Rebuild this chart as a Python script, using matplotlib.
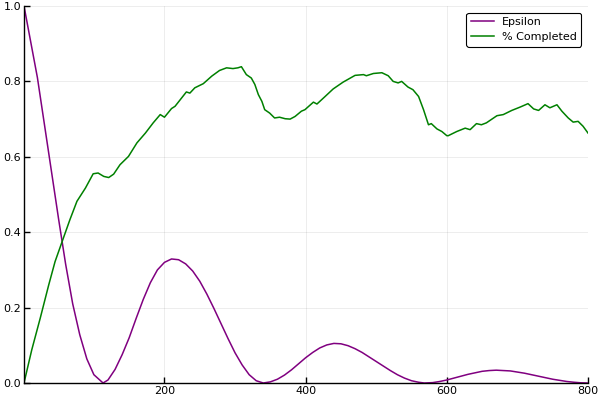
import matplotlib
matplotlib.use("Agg")
import matplotlib.pyplot as plt

# epsilon per episode
eps_x = [1, 10, 20, 30, 40, 50, 60, 70, 80, 90, 100, 113, 120, 130, 140, 150, 160, 170, 180, 190,
         200, 210, 220, 230, 240, 250, 260, 270, 280, 290, 300, 310, 320, 330, 340, 350, 360, 370,
         380, 390, 400, 410, 420, 430, 440, 450, 460, 470, 480, 490, 500, 510, 520, 530, 540, 550,
         560, 568, 580, 590, 600, 610, 620, 630, 640, 650, 660, 670, 680, 690, 700, 710, 720, 730,
         740, 750, 760, 770, 780, 790, 800]
eps_y = [1.0, 0.91, 0.81, 0.685, 0.56, 0.435, 0.315, 0.21, 0.128, 0.064, 0.022, 0.0, 0.008, 0.036,
         0.075, 0.12, 0.172, 0.222, 0.266, 0.3, 0.32, 0.329, 0.327, 0.316, 0.297, 0.27, 0.236, 0.198,
         0.158, 0.118, 0.08, 0.048, 0.022, 0.006, 0.0, 0.003, 0.01, 0.021, 0.035, 0.051, 0.067, 0.081,
         0.093, 0.101, 0.105, 0.104, 0.099, 0.091, 0.081, 0.069, 0.057, 0.045, 0.033, 0.022, 0.013,
         0.006, 0.002, 0.0, 0.001, 0.004, 0.008, 0.013, 0.018, 0.023, 0.027, 0.031, 0.033, 0.034,
         0.033, 0.032, 0.029, 0.026, 0.022, 0.018, 0.014, 0.01, 0.007, 0.004, 0.002, 0.0005, 0.0]

# % completed (running success rate)
done_x = [1, 12, 24, 36, 45, 55, 66, 76, 88, 99, 106, 114, 121, 128, 137, 149, 161, 173, 184, 194,
          200, 210, 215, 231, 236, 243, 255, 267, 278, 288, 297, 304, 309, 316, 323, 328, 333, 338,
          342, 349, 356, 363, 371, 378, 385, 394, 399, 411, 416, 427, 439, 453, 470, 482, 486, 496,
          508, 517, 524, 531, 536, 545, 552, 560, 567, 574, 578, 586, 593, 600, 602, 614, 626, 633,
          642, 649, 656, 671, 680, 692, 704, 715, 723, 730, 739, 746, 756, 763, 772, 779, 786, 793,
          800]
done_y = [0.0, 0.088, 0.172, 0.26, 0.322, 0.375, 0.433, 0.482, 0.517, 0.555, 0.557, 0.548, 0.545,
          0.554, 0.579, 0.601, 0.637, 0.663, 0.69, 0.712, 0.705, 0.728, 0.734, 0.772, 0.769, 0.783,
          0.794, 0.814, 0.829, 0.836, 0.834, 0.836, 0.839, 0.818, 0.809, 0.792, 0.765, 0.747, 0.725,
          0.716, 0.703, 0.705, 0.701, 0.7, 0.707, 0.721, 0.725, 0.745, 0.74, 0.759, 0.78, 0.798,
          0.816, 0.818, 0.815, 0.821, 0.823, 0.815, 0.8, 0.796, 0.8, 0.785, 0.778, 0.76, 0.725,
          0.685, 0.688, 0.674, 0.667, 0.656, 0.656, 0.667, 0.676, 0.672, 0.688, 0.685, 0.69, 0.709,
          0.712, 0.723, 0.732, 0.741, 0.727, 0.723, 0.738, 0.73, 0.738, 0.721, 0.703, 0.692, 0.694,
          0.681, 0.663]

fig = plt.figure(figsize=(6, 4), dpi=100)
ax = fig.add_axes([0.04, 0.0425, 0.94, 0.9425])

ax.plot(eps_x, eps_y, color="purple", lw=1.1, label="Epsilon")
ax.plot(done_x, done_y, color="green", lw=1.1, label="% Completed")

ax.set_xlim(1, 800)
ax.set_ylim(0, 1)
ax.set_xticks([200, 400, 600, 800])
ax.set_yticks([0.0, 0.2, 0.4, 0.6, 0.8, 1.0])
ax.set_yticklabels(["0.0", "0.2", "0.4", "0.6", "0.8", "1.0"])
ax.grid(True, color="black", alpha=0.1, lw=0.5)
ax.tick_params(direction="in", length=4, width=1, labelsize=8, pad=2)
for s in ("top", "right"):
    ax.spines[s].set_visible(False)
for s in ("left", "bottom"):
    ax.spines[s].set_linewidth(1.0)

leg = ax.legend(loc="upper right", fontsize=8, fancybox=True, framealpha=1,
                handlelength=2.1, handletextpad=0.7, borderaxespad=0.6,
                labelspacing=0.45)
leg.get_frame().set_edgecolor("black")
leg.get_frame().set_linewidth(0.8)

fig.savefig("out.png", dpi=100)
